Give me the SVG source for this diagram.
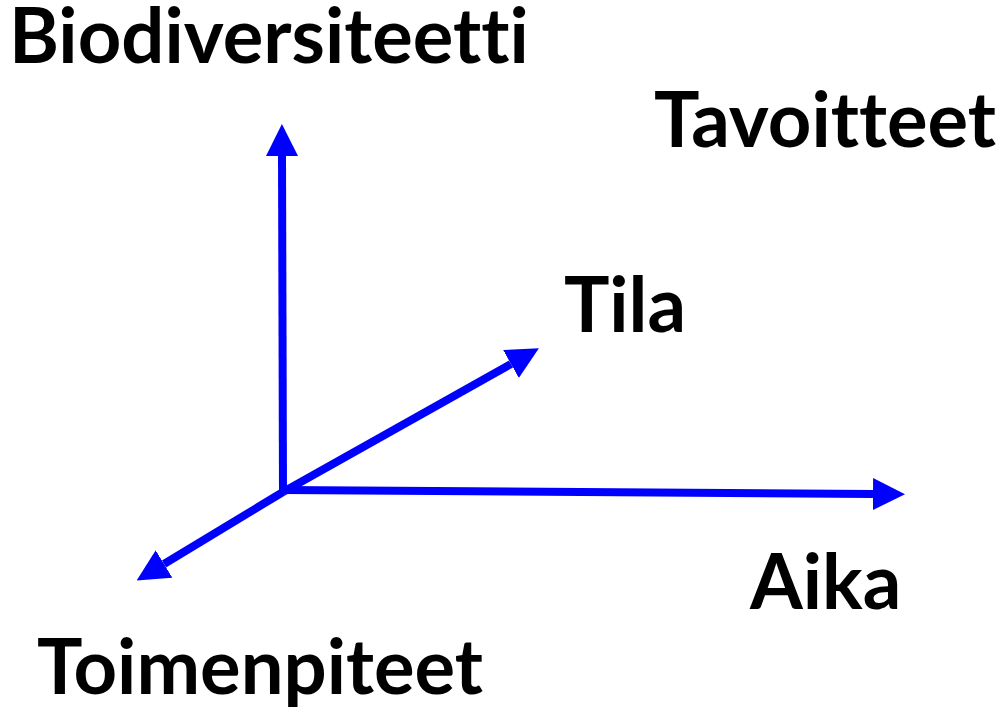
<svg xmlns="http://www.w3.org/2000/svg" width="1000" height="707" viewBox="0 0 1000 707">
<style>
.lbl{font-family:Lato,"Liberation Sans",sans-serif;font-weight:bold;font-size:76px;fill:#000;font-variant-ligatures:none;font-feature-settings:"liga" 0}
.ax{stroke:#0000ff;stroke-width:8;fill:none}
</style>
<defs>
<marker id="ah" viewBox="0 0 10 10" refX="0" refY="5" markerWidth="4" markerHeight="4" orient="auto" markerUnits="strokeWidth">
<path d="M0,0 L10,5 L0,10 z" fill="#0000ff"/>
</marker>
</defs>
<rect width="1000" height="707" fill="#fff"/>
<g id="connectors">
<line class="ax" x1="283" y1="492" x2="282" y2="156" marker-end="url(#ah)"/>
<line class="ax" x1="283" y1="490" x2="873" y2="494" marker-end="url(#ah)"/>
<line class="ax" x1="283" y1="492" x2="511" y2="364" marker-end="url(#ah)"/>
<line class="ax" x1="283" y1="492" x2="164" y2="564" marker-end="url(#ah)"/>
</g>
<g id="biodiversiteetti"><text class="lbl" x="9" y="63">Biodiversiteetti</text></g>
<g id="tavoitteet"><text class="lbl" x="654" y="147">Tavoitteet</text></g>
<g id="tila"><text class="lbl" x="564" y="332">Tila</text></g>
<g id="aika"><text class="lbl" x="750" y="609">Aika</text></g>
<g id="toimenpiteet"><text class="lbl" x="37" y="694">Toimenpiteet</text></g>
</svg>
